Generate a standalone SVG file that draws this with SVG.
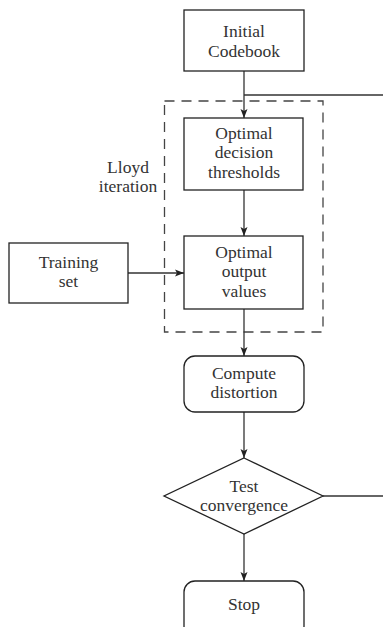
<svg xmlns="http://www.w3.org/2000/svg" width="383" height="627" viewBox="0 0 383 627">
<style>
.box{fill:#fff;stroke:#222;stroke-width:1.3}
.ln{fill:none;stroke:#333;stroke-width:1.3}
.dash{fill:none;stroke:#444;stroke-width:1.3;stroke-dasharray:10 7}
text{font-family:"Liberation Serif","DejaVu Serif",serif;font-size:17.5px;fill:#333;text-anchor:middle}
</style>
<defs>
<marker id="ah" markerWidth="10" markerHeight="10" refX="9" refY="5" orient="auto" markerUnits="userSpaceOnUse">
<path d="M0,1.5 L9,5 L0,8.5 L2,5 Z" fill="#222"/>
</marker>
</defs>
<rect x="0" y="0" width="383" height="627" fill="#fff"/>
<g id="lloyd">
<rect class="dash" x="164.5" y="101" width="158.5" height="231"/>
<text x="128" y="173">Lloyd</text>
<text x="128" y="192">iteration</text>
</g>
<g id="connectors">
<line class="ln" x1="244" y1="71" x2="244" y2="118" marker-end="url(#ah)"/>
<line class="ln" x1="244" y1="95" x2="383" y2="95"/>
<line class="ln" x1="244" y1="190" x2="244" y2="236" marker-end="url(#ah)"/>
<line class="ln" x1="128" y1="273" x2="184" y2="273" marker-end="url(#ah)"/>
<line class="ln" x1="244" y1="309" x2="244" y2="356" marker-end="url(#ah)"/>
<line class="ln" x1="244" y1="412" x2="244" y2="458" marker-end="url(#ah)"/>
<line class="ln" x1="323" y1="496" x2="383" y2="496"/>
<line class="ln" x1="244" y1="534" x2="244" y2="581" marker-end="url(#ah)"/>
</g>
<g id="initial">
<rect class="box" x="184" y="10" width="120" height="61"/>
<text x="244" y="37">Initial</text>
<text x="244" y="57">Codebook</text>
</g>
<g id="decision">
<rect class="box" x="184" y="118" width="119" height="72"/>
<text x="244" y="139">Optimal</text>
<text x="244" y="158">decision</text>
<text x="244" y="178">thresholds</text>
</g>
<g id="output">
<rect class="box" x="184" y="236" width="119" height="73"/>
<text x="244" y="258">Optimal</text>
<text x="244" y="277">output</text>
<text x="244" y="297">values</text>
</g>
<g id="training">
<rect class="box" x="9" y="243" width="119" height="60"/>
<text x="68.5" y="268">Training</text>
<text x="68.5" y="287">set</text>
</g>
<g id="compute">
<rect class="box" x="184" y="356" width="120" height="56" rx="11"/>
<text x="244" y="379">Compute</text>
<text x="244" y="398">distortion</text>
</g>
<g id="test">
<polygon class="box" points="244,458 323,496 244,534 164,496"/>
<text x="244" y="492">Test</text>
<text x="244" y="511">convergence</text>
</g>
<g id="stop">
<rect class="box" x="184" y="581" width="120" height="56" rx="11"/>
<text x="244" y="610">Stop</text>
</g>
</svg>
